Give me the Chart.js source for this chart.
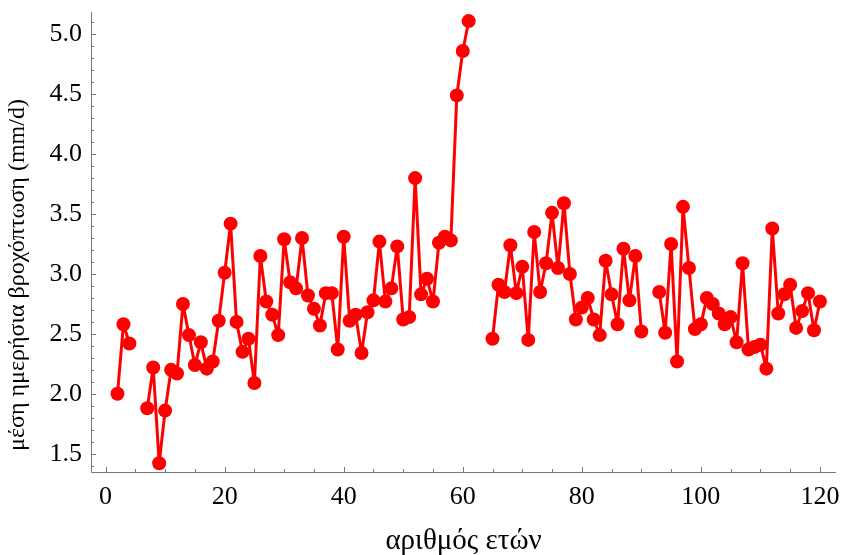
<!DOCTYPE html>
<html>
<head>
    <meta charset="utf-8">
    <title>Μέση ημερήσια βροχόπτωση</title>
    <style>
        body {
            margin: 0;
            padding: 0;
            background-color: #fff;
        }

        #rainChart {
            display: block;
        }
    </style>
    <script src="https://cdn.jsdelivr.net/npm/chart.js"></script>
</head>
<body>
    <canvas id="rainChart" width="843" height="555"></canvas>

    <script>
        // Years with no record are kept as null so the line breaks there
        const years = [
            2, 3, 4, 5, 6, 7, 8, 9, 10, 11, 12, 13, 14, 15, 16, 17, 18, 19, 20,
            21, 22, 23, 24, 25, 26, 27, 28, 29, 30, 31, 32, 33, 34, 35, 36, 37, 38, 39, 40,
            41, 42, 43, 44, 45, 46, 47, 48, 49, 50, 51, 52, 53, 54, 55, 56, 57, 58, 59, 60,
            61, 62, 63, 64, 65, 66, 67, 68, 69, 70, 71, 72, 73, 74, 75, 76, 77, 78, 79, 80,
            81, 82, 83, 84, 85, 86, 87, 88, 89, 90, 91, 92, 93, 94, 95, 96, 97, 98, 99, 100,
            101, 102, 103, 104, 105, 106, 107, 108, 109, 110, 111, 112, 113, 114, 115, 116, 117, 118, 119, 120
        ];
        const rainfall = [
            2.00, 2.58, 2.42, null, null, 1.88, 2.22, 1.42, 1.86, 2.20, 2.17, 2.75, 2.49, 2.24, 2.43, 2.21, 2.27, 2.61, 3.01,
            3.42, 2.60, 2.35, 2.46, 2.09, 3.15, 2.77, 2.66, 2.49, 3.29, 2.93, 2.88, 3.30, 2.82, 2.71, 2.57, 2.84, 2.84, 2.37, 3.31,
            2.61, 2.66, 2.34, 2.68, 2.78, 3.27, 2.77, 2.88, 3.23, 2.62, 2.64, 3.80, 2.83, 2.96, 2.77, 3.26, 3.31, 3.28, 4.49, 4.86,
            5.11, null, null, null, 2.46, 2.91, 2.85, 3.24, 2.84, 3.06, 2.45, 3.35, 2.85, 3.09, 3.51, 3.05, 3.59, 3.00, 2.62, 2.72,
            2.80, 2.62, 2.49, 3.11, 2.83, 2.58, 3.21, 2.78, 3.15, 2.52, null, null, 2.85, 2.51, 3.25, 2.27, 3.56, 3.05, 2.54, 2.58,
            2.80, 2.75, 2.67, 2.58, 2.64, 2.43, 3.09, 2.37, 2.39, 2.41, 2.21, 3.38, 2.67, 2.83, 2.91, 2.55, 2.69, 2.84, 2.53, 2.77
        ];

        const xTicks = [0, 20, 40, 60, 80, 100, 120];
        const yTicks = [1.5, 2.0, 2.5, 3.0, 3.5, 4.0, 4.5, 5.0];

        const xTitle = "αριθμός ετών";
        const yTitle = "μέση ημερήσια βροχόπτωση (mm/d)";

        const serif = "'Liberation Serif', 'Times New Roman', serif";
        const axisColor = "#777";

        // Axis lines, inward major/minor ticks and the two axis titles
        const frameTicks = {
            id: "frameTicks",
            afterDraw(chart) {
                const { ctx, chartArea: a, scales: { x, y } } = chart;
                ctx.save();
                ctx.strokeStyle = axisColor;
                ctx.lineWidth = 1;
                ctx.beginPath();
                ctx.moveTo(a.left + 0.5, a.top);
                ctx.lineTo(a.left + 0.5, a.bottom + 0.5);
                ctx.lineTo(a.right, a.bottom + 0.5);
                for (let v = 0; v <= 120; v += 5) {
                    const px = Math.round(x.getPixelForValue(v)) + 0.5;
                    const len = v % 20 === 0 ? 5 : 3;
                    ctx.moveTo(px, a.bottom);
                    ctx.lineTo(px, a.bottom - len);
                }
                for (let k = 14; k <= 51; k++) {
                    const py = Math.round(y.getPixelForValue(k / 10)) + 0.5;
                    const len = k % 5 === 0 ? 5 : 3;
                    ctx.moveTo(a.left, py);
                    ctx.lineTo(a.left + len, py);
                }
                ctx.stroke();

                ctx.fillStyle = "#000";
                ctx.textAlign = "center";
                ctx.textBaseline = "middle";
                ctx.font = "29px " + serif;
                ctx.fillText(xTitle, (a.left + a.right) / 2, 541);

                ctx.font = "24px " + serif;
                ctx.translate(18, 275);
                ctx.rotate(-Math.PI / 2);
                ctx.fillText(yTitle, 0, 0);
                ctx.restore();
            }
        };

        // Keep the plot frame fixed: no extra room for overhanging tick labels
        function noOverhang(scale) {
            scale.paddingLeft = 0;
            scale.paddingRight = 0;
            scale.paddingTop = 0;
            scale.paddingBottom = 0;
        }

        const points = years.map((yr, i) => ({ x: yr, y: rainfall[i] }));

        new Chart(document.getElementById("rainChart"), {
            type: "line",
            data: {
                datasets: [{
                    data: points,
                    borderColor: "#ff0000",
                    backgroundColor: "#ff0000",
                    borderWidth: 3,
                    borderJoinStyle: "round",
                    borderCapStyle: "round",
                    pointRadius: 7,
                    pointBorderWidth: 0,
                    pointBackgroundColor: "#ff0000",
                    spanGaps: false,
                    tension: 0,
                    clip: false
                }]
            },
            options: {
                responsive: false,
                animation: false,
                events: [],
                layout: {
                    padding: { top: 12, right: 6, left: 0, bottom: 0 }
                },
                plugins: {
                    legend: { display: false },
                    tooltip: { enabled: false }
                },
                scales: {
                    x: {
                        type: "linear",
                        min: -2.45,
                        max: 122.7,
                        grid: { display: false, drawTicks: false, tickLength: 0 },
                        border: { display: false },
                        afterBuildTicks: (scale) => {
                            scale.ticks = xTicks.map(v => ({ value: v }));
                        },
                        afterFit: (scale) => {
                            scale.height = 83;
                            noOverhang(scale);
                        },
                        ticks: {
                            padding: 10,
                            color: "#000",
                            maxRotation: 0,
                            autoSkip: false,
                            font: { family: serif, size: 26 },
                            callback: (v) => String(v)
                        }
                    },
                    y: {
                        type: "linear",
                        min: 1.3475,
                        max: 5.186,
                        grid: { display: false, drawTicks: false, tickLength: 0 },
                        border: { display: false },
                        afterBuildTicks: (scale) => {
                            scale.ticks = yTicks.map(v => ({ value: v }));
                        },
                        afterFit: (scale) => {
                            scale.width = 91;
                            noOverhang(scale);
                        },
                        ticks: {
                            padding: 9,
                            color: "#000",
                            autoSkip: false,
                            font: { family: serif, size: 26 },
                            callback: (v) => Number(v).toFixed(1)
                        }
                    }
                }
            },
            plugins: [frameTicks]
        });
    </script>
</body>
</html>
